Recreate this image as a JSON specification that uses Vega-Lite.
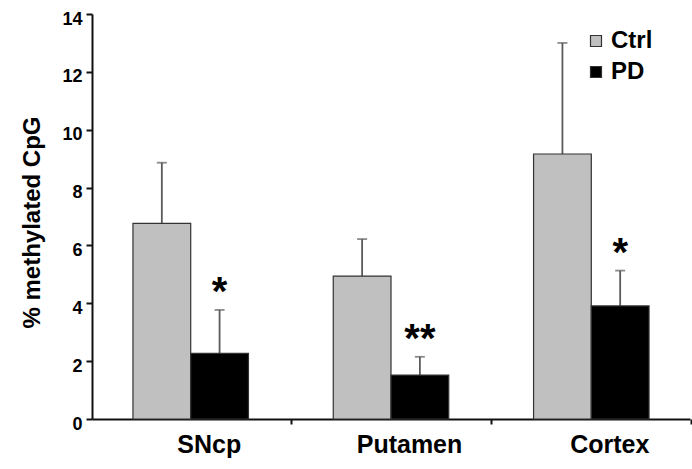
{
  "$schema": "https://vega.github.io/schema/vega-lite/v6.json",
  "autosize": {"type": "none"},
  "width": 598,
  "height": 405,
  "padding": {"left": 92, "top": 14, "right": 2, "bottom": 50},
  "background": "white",
  "config": {
    "view": {"stroke": null},
    "font": "Liberation Sans",
    "axis": {"grid": false, "domainColor": "#111", "tickColor": "#111", "domainWidth": 2, "tickWidth": 2, "labelFontWeight": "bold", "titleFontWeight": "bold", "labelColor": "#000", "titleColor": "#000"}
  },
  "data": {
    "values": [
      {"region": "SNcp", "group": "Ctrl", "value": 6.76, "upper": 8.86, "sig": ""},
      {"region": "SNcp", "group": "PD", "value": 2.27, "upper": 3.77, "sig": "*"},
      {"region": "Putamen", "group": "Ctrl", "value": 4.94, "upper": 6.22, "sig": ""},
      {"region": "Putamen", "group": "PD", "value": 1.52, "upper": 2.15, "sig": "**"},
      {"region": "Cortex", "group": "Ctrl", "value": 9.16, "upper": 13.0, "sig": ""},
      {"region": "Cortex", "group": "PD", "value": 3.91, "upper": 5.13, "sig": "*"}
    ]
  },
  "encoding": {
    "x": {
      "field": "region", "type": "nominal", "sort": ["SNcp", "Putamen", "Cortex"],
      "scale": {"paddingInner": 0.4234, "paddingOuter": 0.2045},
      "axis": {"title": null, "labelAngle": 0, "labelFontSize": 25, "labelPadding": 8, "ticks": true, "tickOffset": 100, "labelOffset": -82, "tickSize": 5}
    },
    "xOffset": {"field": "group", "type": "nominal", "sort": ["Ctrl", "PD"], "scale": {"paddingInner": 0, "paddingOuter": 0}}
  },
  "layer": [
    {
      "mark": {"type": "rule", "color": "#5a5a5a", "strokeWidth": 1.8},
      "encoding": {
        "y": {"field": "value", "type": "quantitative"},
        "y2": {"field": "upper"}
      }
    },
    {
      "mark": {"type": "tick", "color": "#5a5a5a", "thickness": 1.8, "size": 10, "orient": "horizontal"},
      "encoding": {
        "y": {"field": "upper", "type": "quantitative"}
      }
    },
    {
      "mark": {"type": "bar", "stroke": "#333", "strokeWidth": 1.2},
      "encoding": {
        "y": {
          "field": "value", "type": "quantitative",
          "scale": {"domain": [0, 14], "nice": false},
          "axis": {"title": "% methylated CpG", "titleFontSize": 24, "titleX": -60, "titleY": 208, "titleBaseline": "middle", "titleAlign": "center", "labelFontSize": 18, "values": [0, 2, 4, 6, 8, 10, 12, 14], "tickSize": 6, "labelPadding": 4, "labelOffset": 5}
        },
        "color": {
          "field": "group", "type": "nominal",
          "scale": {"domain": ["Ctrl", "PD"], "range": ["#c0c0c0", "#000000"]},
          "legend": {
            "title": null, "orient": "none", "legendX": 492, "legendY": 15,
            "symbolType": "square", "symbolSize": 121, "symbolStrokeColor": "#333", "symbolStrokeWidth": 1.2,
            "labelFontSize": 24, "labelFontWeight": "bold", "labelColor": "#000", "rowPadding": 7, "labelOffset": 3
          }
        }
      }
    },
    {
      "transform": [{"filter": "datum.sig != ''"}],
      "mark": {"type": "text", "fontSize": 40, "fontWeight": "bold", "baseline": "alphabetic", "dy": -5, "color": "#000"},
      "encoding": {
        "y": {"field": "upper", "type": "quantitative"},
        "text": {"field": "sig"}
      }
    }
  ]
}
